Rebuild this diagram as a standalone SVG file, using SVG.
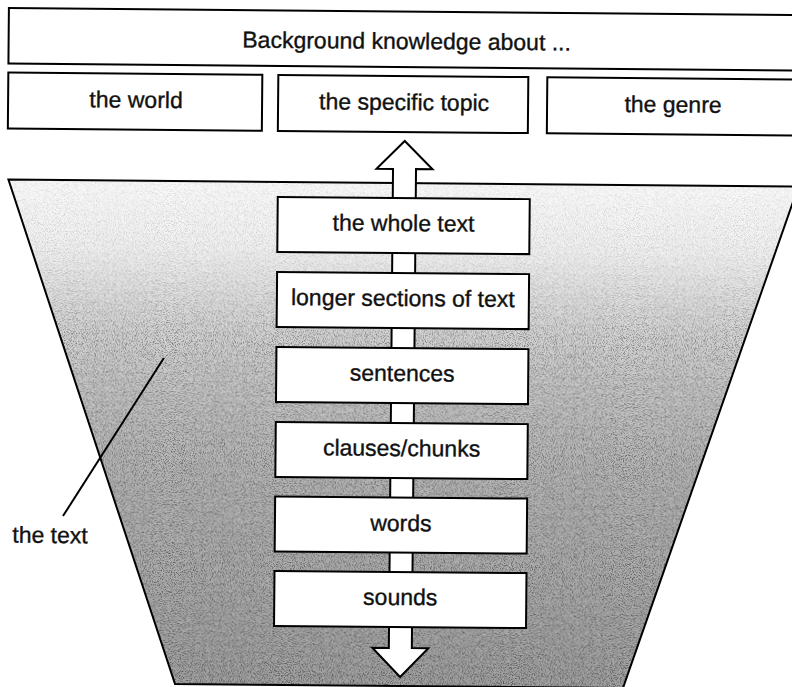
<svg xmlns="http://www.w3.org/2000/svg" width="792" height="687" viewBox="0 0 792 687">
<style>
.box{fill:#fff;stroke:#000;stroke-width:2}
.lbl{font-family:"Liberation Sans",Arial,sans-serif;font-size:23px;fill:#111;stroke:#111;stroke-width:0.35;text-anchor:middle}
.edge{fill:none;stroke:#000;stroke-width:2}
</style>
<defs>
<linearGradient id="shade" x1="0" y1="183" x2="0" y2="686" gradientUnits="userSpaceOnUse">
<stop offset="0" stop-color="#fafafa"/>
<stop offset="0.13" stop-color="#f1f1f1"/>
<stop offset="0.3" stop-color="#d4d4d4"/>
<stop offset="0.55" stop-color="#b8b8b8"/>
<stop offset="1" stop-color="#a2a2a2"/>
</linearGradient>
<linearGradient id="fadeG" x1="0" y1="183" x2="0" y2="686" gradientUnits="userSpaceOnUse">
<stop offset="0" stop-color="#fff" stop-opacity="0.25"/>
<stop offset="0.15" stop-color="#fff" stop-opacity="0.35"/>
<stop offset="0.32" stop-color="#fff" stop-opacity="0.85"/>
<stop offset="1" stop-color="#fff" stop-opacity="1"/>
</linearGradient>
<mask id="fade" maskUnits="userSpaceOnUse" x="0" y="170" width="800" height="530">
<rect x="0" y="170" width="800" height="530" fill="url(#fadeG)"/>
</mask>
<filter id="grain" x="0" y="0" width="100%" height="100%" filterUnits="objectBoundingBox">
<feTurbulence type="fractalNoise" baseFrequency="0.9" numOctaves="2" seed="7" result="n"/>
<feColorMatrix in="n" type="matrix" values="0 0 0 0 0  0 0 0 0 0  0 0 0 0 0  3.2 0 0 0 -1.45" result="dots"/>
<feComposite in="dots" in2="SourceAlpha" operator="in"/>
</filter>
</defs>
<g transform="rotate(0.5 400 343)">
<g id="the-text-region">
<polygon points="7,183 797,183 626,686 178,686" fill="url(#shade)"/>
<g mask="url(#fade)">
<polygon points="7,183 797,183 626,686 178,686" fill="#000" filter="url(#grain)" opacity="0.5"/>
</g>
<polygon class="edge" points="7,183 797,183 626,686 178,686"/>
<text class="lbl" x="14" y="546" style="text-anchor:start">the text</text>
</g>
<g id="connectors">
<path class="box" d="M391.5,169 H375 L403,141 L431,169 H414.5 V648 H431 L403,677 L375,648 H391.5 Z"/>
<line class="edge" x1="164" y1="360" x2="64.5" y2="519"/>
</g>
<g id="background-knowledge">
<rect class="box" x="6" y="11.5" width="800" height="55.5"/>
<text class="lbl" x="404" y="49">Background knowledge about ...</text>
</g>
<g id="the-world">
<rect class="box" x="6" y="76" width="254" height="56"/>
<text class="lbl" x="134" y="110">the world</text>
</g>
<g id="the-specific-topic">
<rect class="box" x="276" y="76" width="250" height="56"/>
<text class="lbl" x="402" y="110">the specific topic</text>
</g>
<g id="the-genre">
<rect class="box" x="545" y="76" width="260" height="56"/>
<text class="lbl" x="671" y="110">the genre</text>
</g>
<g id="the-whole-text">
<rect class="box" x="276.5" y="198" width="252" height="55"/>
<text class="lbl" x="402.5" y="231">the whole text</text>
</g>
<g id="longer-sections">
<rect class="box" x="276.5" y="273" width="252" height="55"/>
<text class="lbl" x="402.5" y="306">longer sections of text</text>
</g>
<g id="sentences">
<rect class="box" x="276.5" y="348" width="252" height="55"/>
<text class="lbl" x="402.5" y="381">sentences</text>
</g>
<g id="clauses-chunks">
<rect class="box" x="276.5" y="423" width="252" height="55"/>
<text class="lbl" x="402.5" y="456">clauses/chunks</text>
</g>
<g id="words">
<rect class="box" x="276.5" y="497.5" width="252" height="55"/>
<text class="lbl" x="402.5" y="531">words</text>
</g>
<g id="sounds">
<rect class="box" x="276.5" y="572" width="252" height="55"/>
<text class="lbl" x="402.5" y="605">sounds</text>
</g>
</g>
</svg>
